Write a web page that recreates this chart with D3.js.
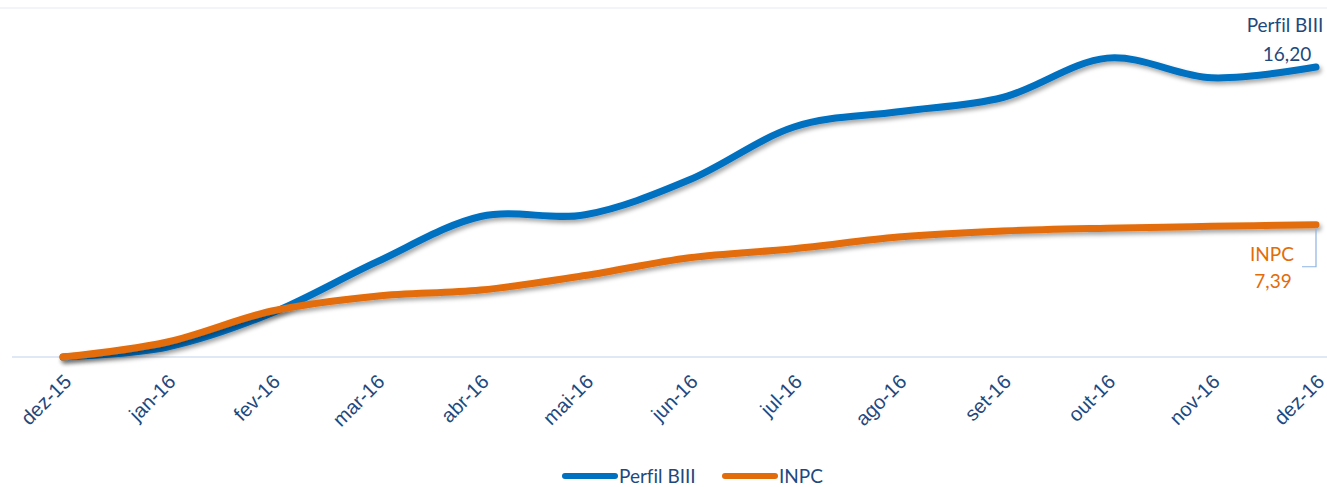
<!DOCTYPE html>
<html>
<head>
<meta charset="utf-8">
<script src="https://cdn.jsdelivr.net/npm/d3@7"></script>
<style>
  body { margin: 0; background: #fff; }
  svg { display: block; font-family: Lato, "Noto Sans", sans-serif; font-variant-ligatures: none; }
</style>
</head>
<body>
<div id="chart"></div>
<script>
var months = ["dez-15", "jan-16", "fev-16", "mar-16", "abr-16", "mai-16", "jun-16",
              "jul-16", "ago-16", "set-16", "out-16", "nov-16", "dez-16"];
var perfil = [0, 0.56, 2.46, 5.3, 7.85, 7.95, 9.9, 12.85, 13.7, 14.5, 16.7, 15.6, 16.2];
var inpc = [0, 0.84, 2.57, 3.4, 3.74, 4.55, 5.55, 6.05, 6.7, 7.04, 7.2, 7.3, 7.39];

var width = 1327;
var height = 487;
var blue = "#0070c0";
var orange = "#e36c0a";
var textColor = "#1f497d";

var svg = d3.select("#chart").append("svg")
    .attr("width", width)
    .attr("height", height);

var defs = svg.append("defs");
var f = defs.append("filter").attr("id", "shadow")
    .attr("x", "-5%").attr("y", "-20%").attr("width", "110%").attr("height", "150%");
f.append("feDropShadow")
    .attr("dx", 2).attr("dy", 3).attr("stdDeviation", 2)
    .attr("flood-color", "#000").attr("flood-opacity", 0.35);

var x = d3.scalePoint().domain(months).range([63, 1316]);
var y = d3.scaleLinear().domain([0, 19.5]).range([357, 8]);

// top gridline and baseline
svg.append("line")
    .attr("x1", 0).attr("x2", width)
    .attr("y1", y(19.5)).attr("y2", y(19.5))
    .attr("stroke", "#e4ecf6").attr("stroke-width", 1.2);

var xAxis = svg.append("g")
    .attr("transform", "translate(0," + y(0) + ")")
    .call(d3.axisBottom(x).tickSize(0).tickPadding(0));
xAxis.select(".domain").remove();
xAxis.append("line")
    .attr("x1", 12).attr("x2", width)
    .attr("stroke", "#d5e1f0").attr("stroke-width", 1.5);
xAxis.selectAll(".tick text")
    .attr("fill", textColor)
    .style("font-size", "20px")
    .attr("text-anchor", "end")
    .attr("dy", 0)
    .attr("transform", "translate(9,26) rotate(-45)");

var line = d3.line()
    .x(function (d, i) { return x(months[i]); })
    .y(function (d) { return y(d); })
    .curve(d3.curveCardinal.tension(0));

var series = [
    { name: "Perfil BIII", values: perfil, color: blue },
    { name: "INPC", values: inpc, color: orange }
];

svg.selectAll("path.series")
    .data(series)
    .enter()
    .append("path")
    .attr("class", "series")
    .attr("d", function (d) { return line(d.values); })
    .attr("fill", "none")
    .attr("stroke", function (d) { return d.color; })
    .attr("stroke-width", 7)
    .attr("stroke-linecap", "round")
    .attr("filter", "url(#shadow)");

// end labels
var lastX = x(months[months.length - 1]);
var lastP = perfil[perfil.length - 1];
var lastI = inpc[inpc.length - 1];
var fmt = function (v) { return v.toFixed(2).replace(".", ","); };

var lp = svg.append("text")
    .attr("x", 1285).attr("y", y(lastP) - 35)
    .attr("text-anchor", "middle")
    .attr("fill", textColor)
    .style("font-size", "19px");
lp.append("tspan").attr("x", 1285).text("Perfil BIII");
lp.append("tspan").attr("x", 1287).attr("dy", 29).text(fmt(lastP));

svg.append("path")
    .attr("d", "M" + lastX + "," + (y(lastI) + 3) + "L" + lastX + "," + (y(lastI) + 42) +
        "L" + (lastX - 14) + "," + (y(lastI) + 42))
    .attr("fill", "none")
    .attr("stroke", "#8eb4e3")
    .attr("stroke-width", 1.2);

var li = svg.append("text")
    .attr("x", 1272).attr("y", y(lastI) + 36)
    .attr("text-anchor", "middle")
    .attr("fill", orange)
    .style("font-size", "19px");
li.append("tspan").attr("x", 1272).text("INPC");
li.append("tspan").attr("x", 1273).attr("dy", 27).text(fmt(lastI));

// legend
var legend = svg.append("g").attr("transform", "translate(0,476)");
var legendItems = [
    { name: "Perfil BIII", color: blue, x: 565 },
    { name: "INPC", color: orange, x: 725 }
];
legendItems.forEach(function (d) {
    legend.append("line")
        .attr("x1", d.x).attr("x2", d.x + 50)
        .attr("stroke", d.color).attr("stroke-width", 6)
        .attr("stroke-linecap", "round");
    legend.append("text")
        .attr("x", d.x + 54).attr("y", 0).attr("dy", "0.35em")
        .attr("fill", textColor)
        .style("font-size", "19px")
        .text(d.name);
});
</script>
</body>
</html>
